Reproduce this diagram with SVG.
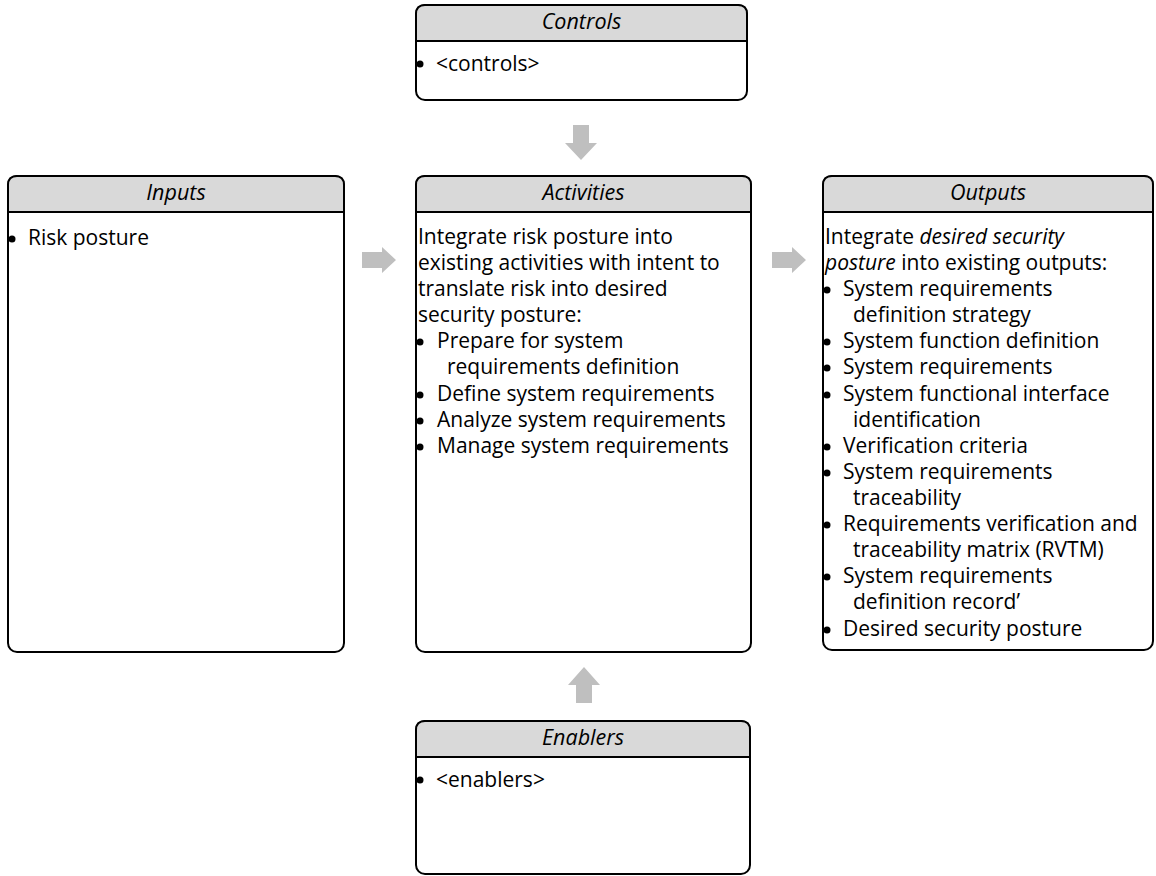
<svg xmlns="http://www.w3.org/2000/svg" width="1156" height="876" viewBox="0 0 1156 876">
  <style>
    .frame { fill: #ffffff; stroke: #000000; stroke-width: 2; }
    .head { fill: #d9d9d9; stroke: #000000; stroke-width: 2; }
    .title { font-family: "Open Sans", "Liberation Sans", sans-serif; font-size: 21.5px; font-style: italic; fill: #000000; text-anchor: middle; }
    .body { font-family: "Open Sans", "Liberation Sans", sans-serif; font-size: 21px; fill: #000000; }
    .em { font-style: italic; }
    .dot { fill: #000000; }
    .flow { fill: #bfbfbf; stroke: none; }
  </style>

  <!-- Controls -->
  <g id="controls">
    <rect class="frame" x="416" y="5" width="331" height="95" rx="9"/>
    <path class="head" d="M416,41 V14 Q416,5 425,5 H738 Q747,5 747,14 V41 Z"/>
    <text class="title" x="581.5" y="29">Controls</text>
    <circle class="dot" cx="420" cy="64" r="3.5"/>
    <text class="body" x="436" y="71">&lt;controls&gt;</text>
  </g>

  <!-- Inputs -->
  <g id="inputs">
    <rect class="frame" x="8" y="176" width="336" height="476" rx="9"/>
    <path class="head" d="M8,212 V185 Q8,176 17,176 H335 Q344,176 344,185 V212 Z"/>
    <text class="title" x="176" y="200">Inputs</text>
    <circle class="dot" cx="12" cy="239" r="3.5"/>
    <text class="body" x="28" y="245">Risk posture</text>
  </g>

  <!-- Activities -->
  <g id="activities">
    <rect class="frame" x="416" y="176" width="335" height="476" rx="9"/>
    <path class="head" d="M416,212 V185 Q416,176 425,176 H742 Q751,176 751,185 V212 Z"/>
    <text class="title" x="583.5" y="200">Activities</text>
    <text class="body" x="418" y="244">Integrate risk posture into</text>
    <text class="body" x="418" y="270">existing activities with intent to</text>
    <text class="body" x="418" y="296">translate risk into desired</text>
    <text class="body" x="418" y="322">security posture:</text>
    <circle class="dot" cx="420" cy="342" r="3.5"/>
    <text class="body" x="437" y="348">Prepare for system</text>
    <text class="body" x="447" y="374">requirements definition</text>
    <circle class="dot" cx="420" cy="395" r="3.5"/>
    <text class="body" x="437" y="401">Define system requirements</text>
    <circle class="dot" cx="420" cy="421" r="3.5"/>
    <text class="body" x="437" y="427">Analyze system requirements</text>
    <circle class="dot" cx="420" cy="447" r="3.5"/>
    <text class="body" x="437" y="453">Manage system requirements</text>
  </g>

  <!-- Outputs -->
  <g id="outputs">
    <rect class="frame" x="823" y="176" width="330" height="474" rx="9"/>
    <path class="head" d="M823,212 V185 Q823,176 832,176 H1144 Q1153,176 1153,185 V212 Z"/>
    <text class="title" x="988" y="200">Outputs</text>
    <text class="body" x="825" y="244">Integrate <tspan class="em">desired security</tspan></text>
    <text class="body" x="825" y="270"><tspan class="em">posture</tspan> into existing outputs:</text>
    <circle class="dot" cx="827" cy="290" r="3.5"/>
    <text class="body" x="843" y="296">System requirements</text>
    <text class="body" x="853" y="322">definition strategy</text>
    <circle class="dot" cx="827" cy="342" r="3.5"/>
    <text class="body" x="843" y="348">System function definition</text>
    <circle class="dot" cx="827" cy="368" r="3.5"/>
    <text class="body" x="843" y="374">System requirements</text>
    <circle class="dot" cx="827" cy="395" r="3.5"/>
    <text class="body" x="843" y="401">System functional interface</text>
    <text class="body" x="853" y="427">identification</text>
    <circle class="dot" cx="827" cy="447" r="3.5"/>
    <text class="body" x="843" y="453">Verification criteria</text>
    <circle class="dot" cx="827" cy="473" r="3.5"/>
    <text class="body" x="843" y="479">System requirements</text>
    <text class="body" x="853" y="505">traceability</text>
    <circle class="dot" cx="827" cy="525" r="3.5"/>
    <text class="body" x="843" y="531">Requirements verification and</text>
    <text class="body" x="853" y="557">traceability matrix (RVTM)</text>
    <circle class="dot" cx="827" cy="577" r="3.5"/>
    <text class="body" x="843" y="583">System requirements</text>
    <text class="body" x="853" y="609">definition record’</text>
    <circle class="dot" cx="827" cy="630" r="3.5"/>
    <text class="body" x="843" y="636">Desired security posture</text>
  </g>

  <!-- Enablers -->
  <g id="enablers">
    <rect class="frame" x="416" y="721" width="334" height="153" rx="9"/>
    <path class="head" d="M416,757 V730 Q416,721 425,721 H741 Q750,721 750,730 V757 Z"/>
    <text class="title" x="583" y="745">Enablers</text>
    <circle class="dot" cx="420" cy="780" r="3.5"/>
    <text class="body" x="436" y="787">&lt;enablers&gt;</text>
  </g>

  <!-- Block arrows between the boxes -->
  <g id="connectors">
    <path class="flow" d="M573,125 H589 V143 H597 L581,160 L565,143 H573 Z"/>
    <path class="flow" d="M362,252 H382 V247 L396,260 L382,273 V268 H362 Z"/>
    <path class="flow" d="M772,252 H792 V247 L806,260 L792,273 V268 H772 Z"/>
    <path class="flow" d="M576,703 V685 H568 L584,667 L600,685 H592 V703 Z"/>
  </g>
</svg>
